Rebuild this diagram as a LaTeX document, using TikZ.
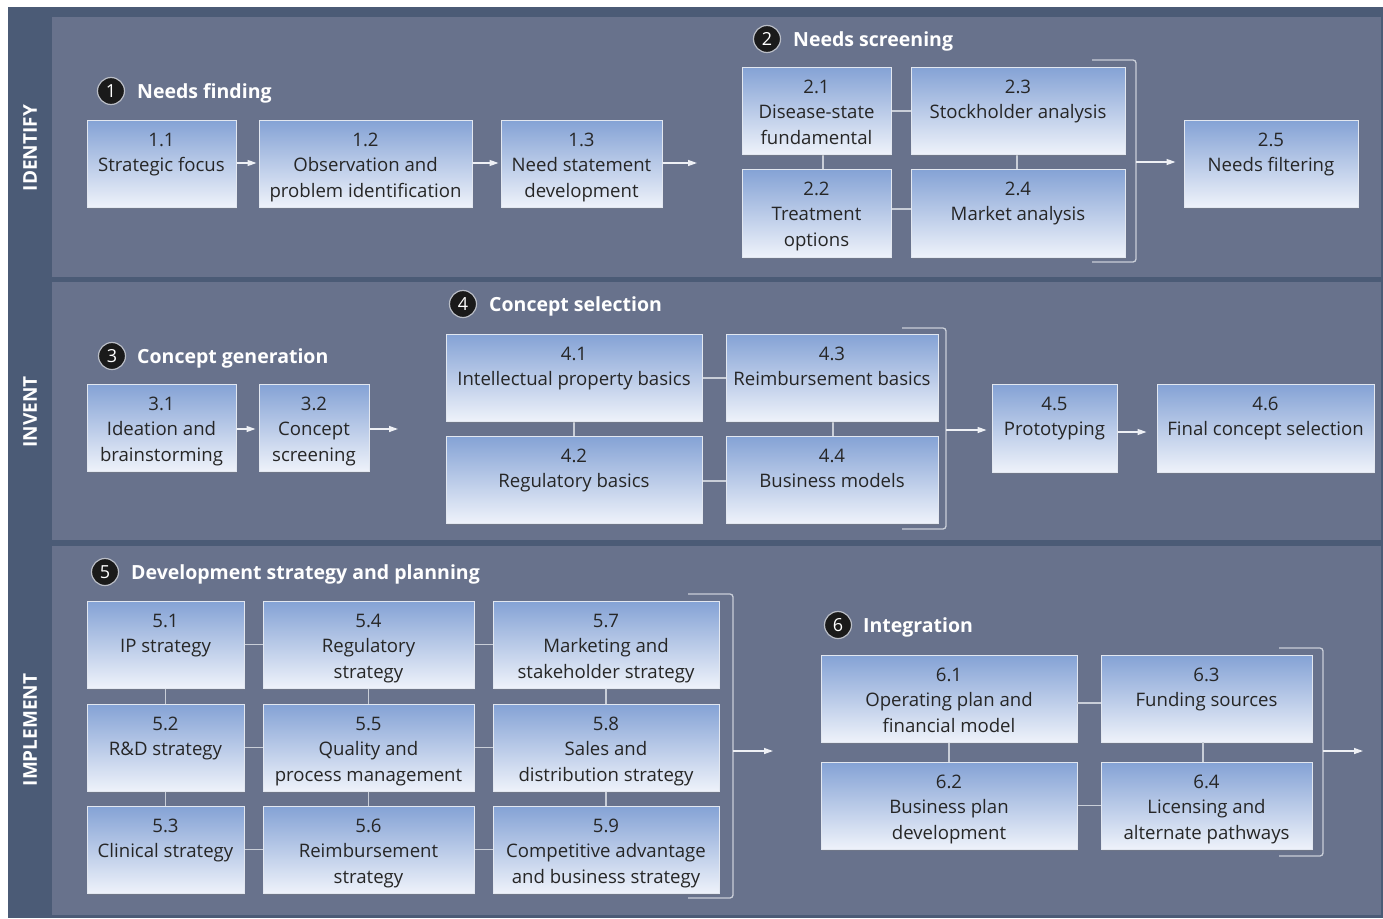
\documentclass[tikz,border=0pt]{standalone}
\usepackage{fontspec}
\setmainfont{Open Sans}
\usetikzlibrary{shadows,arrows.meta}
\definecolor{band}{HTML}{4B5B76}
\definecolor{panel}{HTML}{68728C}
\definecolor{boxtop}{HTML}{84A2D5}
\definecolor{boxbot}{HTML}{EEF2FA}
\definecolor{boxline}{HTML}{E2E7F0}
\definecolor{textc}{HTML}{262626}
\definecolor{linkc}{HTML}{C9CED8}
\definecolor{arrc}{HTML}{EEF0F5}
\definecolor{numfill}{HTML}{1A1A1A}
\definecolor{numline}{HTML}{B9BDC6}
\newcommand\mybox[6]{\node[bx] (#1) at ({(#2+#4)/2},{(#3+#5)/2}) {\parbox[c][\dimexpr#5pt-#3pt\relax][t]{\dimexpr#4pt-#2pt\relax}{\centering\rule{0pt}{26pt}#6}};}
\tikzset{
  bx/.style={inner sep=0pt, draw=boxline, line width=1pt, top color=boxtop, bottom color=boxbot,
    drop shadow={shadow xshift=1pt, shadow yshift=-1.5pt, opacity=0.3},
    font=\fontsize{18.6}{25.5}\selectfont, text=textc},
  lnk/.style={draw=linkc, line width=1.3pt},
  arr/.style={draw=arrc, line width=1.3pt, -{Triangle[length=9pt,width=6pt]}},
  brk/.style={draw=linkc, line width=1.3pt, rounded corners=3pt},
  num/.style={circle, fill=numfill, draw=numline, line width=1.2pt, minimum size=27pt, inner sep=0pt, text=white, font=\fontsize{18}{18}\selectfont},
  ttl/.style={text=white, font=\fontsize{19.5}{19.5}\selectfont\bfseries, inner sep=0pt},
  side/.style={text=white, font=\fontsize{19}{19}\selectfont\bfseries, inner sep=0pt, rotate=90}
}
\begin{document}
\begin{tikzpicture}[x=1pt,y=-1pt]
\useasboundingbox (0,0) rectangle (1383,918);
\fill[white] (0,0) rectangle (1383,918);
\fill[band] (8,7) rectangle (1383,918);
\fill[panel] (52,17) rectangle (1381,277);
\fill[panel] (52,282) rectangle (1381,540);
\fill[panel] (52,546) rectangle (1381,915);
% side labels
\node[side] (l1) at (30,148) {IDENTIFY};
\node[side] (l2) at (30,412) {INVENT};
\node[side] (l3) at (30,730) {IMPLEMENT};
% titles
\node[num] (c1) at (111,91) {1};
\node[ttl, anchor=base west] (t1) at (137,98.5) {Needs finding};
\node[num] (c2) at (767,39) {2};
\node[ttl, anchor=base west] (t2) at (793,46.5) {Needs screening};
\node[num] (c3) at (112,356) {3};
\node[ttl, anchor=base west] (t3) at (137,363.5) {Concept generation};
\node[num] (c4) at (463,304) {4};
\node[ttl, anchor=base west] (t4) at (489,311.5) {Concept selection};
\node[num] (c5) at (105,572) {5};
\node[ttl, anchor=base west] (t5) at (131,579.5) {Development strategy and planning};
\node[num] (c6) at (838,625) {6};
\node[ttl, anchor=base west] (t6) at (863,632.5) {Integration};
% links and brackets (behind boxes)
\coordinate (v21) at (823,154); \coordinate (v22) at (823,169);
\draw[lnk] (v21) -- (v22);
\draw[lnk] (1017,154) coordinate (v23) -- (1017,169) coordinate (v24);
\draw[lnk] (891,111) coordinate (h21) -- (911,111) coordinate (h23);
\draw[lnk] (891,209) coordinate (h22) -- (911,209) coordinate (h24);
\draw[brk] (1092,60) coordinate (k2a) -- (1136,60) -- (1136,262) -- (1092,262) coordinate (k2b);
\draw[lnk] (702,378) coordinate (h41) -- (726,378) coordinate (h43);
\draw[lnk] (702,481) coordinate (h42) -- (726,481) coordinate (h44);
\draw[lnk] (574,421) coordinate (v41) -- (574,436) coordinate (v42);
\draw[lnk] (833,421) coordinate (v43) -- (833,436) coordinate (v44);
\draw[brk] (902,328) coordinate (k4a) -- (946,328) -- (946,529) -- (902,529) coordinate (k4b);
\draw[brk] (688,594) coordinate (k5a) -- (733,594) -- (733,898) -- (688,898) coordinate (k5b);
\draw[brk] (1279,648) coordinate (k6a) -- (1323,648) -- (1323,856) -- (1279,856) coordinate (k6b);
% boxes row 1
\mybox{b11}{87}{120}{236}{207}{1.1\\Strategic focus}
\mybox{b12}{259}{120}{472}{207}{1.2\\Observation and\\problem identification}
\mybox{b13}{501}{120}{662}{207}{1.3\\Need statement\\development}
\mybox{b21}{742}{67}{891}{154}{2.1\\Disease-state\\fundamental}
\mybox{b23}{911}{67}{1125}{154}{2.3\\Stockholder analysis}
\mybox{b22}{742}{169}{891}{257}{2.2\\Treatment\\options}
\mybox{b24}{911}{169}{1125}{257}{2.4\\Market analysis}
\mybox{b25}{1184}{120}{1358}{207}{2.5\\Needs filtering}
% row 2
\mybox{b31}{87}{384}{236}{471}{3.1\\Ideation and\\brainstorming}
\mybox{b32}{259}{384}{369}{471}{3.2\\Concept\\screening}
\mybox{b41}{446}{334}{702}{421}{4.1\\Intellectual property basics}
\mybox{b43}{726}{334}{938}{421}{4.3\\Reimbursement basics}
\mybox{b42}{446}{436}{702}{523}{4.2\\Regulatory basics}
\mybox{b44}{726}{436}{938}{523}{4.4\\Business models}
\mybox{b45}{992}{384}{1117}{472}{4.5\\Prototyping}
\mybox{b46}{1157}{384}{1374}{472}{4.6\\Final concept selection}
% row 3
\mybox{b51}{87}{601}{244}{688}{5.1\\IP strategy}
\mybox{b54}{263}{601}{474}{688}{5.4\\Regulatory\\strategy}
\mybox{b57}{493}{601}{719}{688}{5.7\\Marketing and\\stakeholder strategy}
\mybox{b52}{87}{704}{244}{791}{5.2\\R\&D strategy}
\mybox{b55}{263}{704}{474}{791}{5.5\\Quality and\\process management}
\mybox{b58}{493}{704}{719}{791}{5.8\\Sales and\\distribution strategy}
\mybox{b53}{87}{806}{244}{893}{5.3\\Clinical strategy}
\mybox{b56}{263}{806}{474}{893}{5.6\\Reimbursement\\strategy}
\mybox{b59}{493}{806}{719}{893}{5.9\\Competitive advantage\\and business strategy}
\mybox{b61}{821}{655}{1077}{742}{6.1\\Operating plan and\\financial model}
\mybox{b63}{1101}{655}{1312}{742}{6.3\\Funding sources}
\mybox{b62}{821}{762}{1077}{849}{6.2\\Business plan\\development}
\mybox{b64}{1101}{762}{1312}{849}{6.4\\Licensing and\\alternate pathways}
% links in row 3
\draw[lnk] (b51) -- (b54); \draw[lnk] (b54) -- (b57);
\draw[lnk] (b52) -- (b55); \draw[lnk] (b55) -- (b58);
\draw[lnk] (b53) -- (b56); \draw[lnk] (b56) -- (b59);
\draw[lnk] (b51) -- (b52); \draw[lnk] (b52) -- (b53);
\draw[lnk] (b54) -- (b55); \draw[lnk] (b55) -- (b56);
\draw[lnk] (b57) -- (b58); \draw[lnk] (b58) -- (b59);
\draw[lnk] (1077,703) coordinate (h61) -- (1101,703) coordinate (h63);
\draw[lnk] (b62) -- (b64);
\draw[lnk] (b61) -- (b62);
\draw[lnk] (1203,742) coordinate (v63) -- (1203,762) coordinate (v64);
% arrows
\draw[arr, shorten >=2pt] (b11.east |- 0,163) -- (b12.west |- 0,163);
\draw[arr, shorten >=2pt] (b12.east |- 0,163) -- (b13.west |- 0,163);
\coordinate (e13) at (697,163);
\draw[arr] (b13.east |- e13) -- (e13);
\coordinate (o2) at (1136,162);
\draw[arr, shorten >=8pt] (o2) -- (o2 -| b25.west);
\draw[arr, shorten >=3pt] (b31.east |- 0,429) -- (b32.west |- 0,429);
\coordinate (e32) at (398,429);
\draw[arr] (b32.east |- e32) -- (e32);
\coordinate (o4) at (946,430);
\draw[arr, shorten >=5pt] (o4) -- (o4 -| b45.west);
\draw[arr, shorten >=10pt] (b45.east |- 0,432) -- (b46.west |- 0,432);
\coordinate (o5) at (733,751); \coordinate (e5) at (773,751);
\draw[arr] (o5) -- (e5);
\coordinate (o6) at (1323,751); \coordinate (e6) at (1363,751);
\draw[arr] (o6) -- (e6);
\end{tikzpicture}
\end{document}
